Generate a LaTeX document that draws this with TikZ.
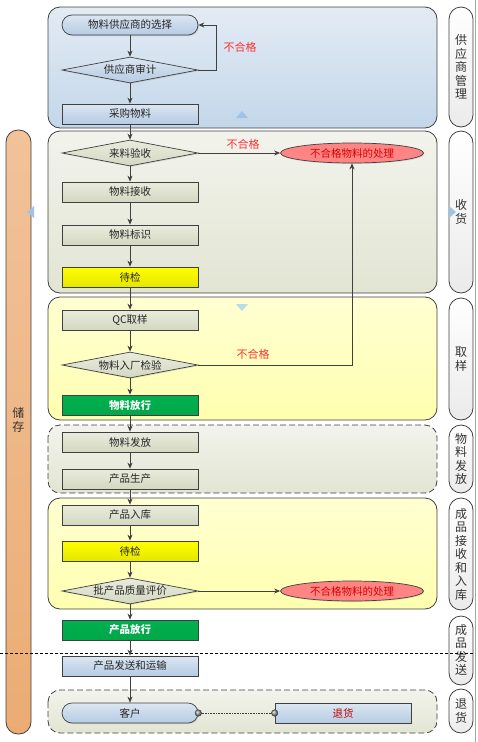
\documentclass[tikz,border=0pt]{standalone}
\usepackage{fontspec}
\newfontfamily\cjk{Noto Sans CJK SC}
\usetikzlibrary{shapes.geometric,arrows.meta,shadows}
\definecolor{ln}{HTML}{404040}
\definecolor{pbT}{HTML}{E3EBF4}
\definecolor{pbB}{HTML}{C3D7EA}
\definecolor{pgT}{HTML}{F2F3EC}
\definecolor{pgB}{HTML}{E2E5D3}
\definecolor{pyT}{HTML}{FFFFD2}
\definecolor{pyB}{HTML}{FFFFB0}
\definecolor{nbT}{HTML}{DCE6F2}
\definecolor{nbB}{HTML}{B5CBE3}
\definecolor{ngT}{HTML}{E9ECDD}
\definecolor{ngB}{HTML}{D3D8C1}
\definecolor{nyT}{HTML}{FFFF00}
\definecolor{nyB}{HTML}{E6E600}
\definecolor{nG}{HTML}{00A848}
\definecolor{nGT}{HTML}{00B050}
\definecolor{nR}{HTML}{FF8585}
\definecolor{orT}{HTML}{F2C29A}
\definecolor{orB}{HTML}{EBAC74}
\definecolor{redtxt}{HTML}{FF3030}
\definecolor{tri}{HTML}{9DC3E6}
\definecolor{tri2}{HTML}{B7DDE5}
\tikzset{
  base/.style={draw=ln, line width=0.7pt, minimum width=136pt, minimum height=20pt, inner sep=0pt,
    font=\cjk\fontsize{10.5}{12}\selectfont, text=black!85,
    drop shadow={opacity=0.25, shadow xshift=1pt, shadow yshift=-1pt}},
  bluebox/.style={base, top color=nbT, bottom color=nbB},
  graybox/.style={base, top color=ngT, bottom color=ngB},
  yellowbox/.style={base, top color=nyT, bottom color=nyB},
  greenbox/.style={base, top color=nGT, bottom color=nG, text=white, font=\cjk\bfseries\fontsize{10.5}{12}\selectfont},
  capsule/.style={rounded corners=10pt},
  dia/.style={base, shape=diamond, aspect=5.2, minimum height=26pt},
  rej/.style={base, shape=ellipse, fill=nR, minimum width=143pt, minimum height=20pt, text=red!85!black},
  panel/.style={draw=ln, line width=0.8pt, rounded corners=12pt},
  dpanel/.style={panel, dash pattern=on 6pt off 3pt},
  side/.style={draw=ln, line width=0.8pt, rounded corners=12pt, top color=white, bottom color=black!8},
  sidetxt/.style={font=\cjk\fontsize{12}{13.5}\selectfont, align=center, text=black!80},
  arr/.style={draw=ln, line width=0.7pt, -{Stealth[length=6pt,width=5pt]}},
  lbl/.style={font=\cjk\fontsize{11}{12}\selectfont, text=redtxt},
}
\begin{document}
\begin{tikzpicture}[x=1pt,y=-1pt]
\useasboundingbox (0,0) rectangle (478,742);
% right border line
\coordinate (rt) at (475,0);
\coordinate (rb) at (475,742);
\draw[black!35, line width=0.8pt] (rt) -- (rb);
% storage bar
\draw[draw=ln, line width=0.8pt, rounded corners=12pt, top color=orT, bottom color=orB] (6,130) rectangle (31,734);
\node[sidetxt] (store) at (18.5,420) {储\\存};
% panels
\draw[panel, top color=pbT, bottom color=pbB] (48,7) rectangle (437,128);
\draw[panel, top color=pgT, bottom color=pgB] (48,131) rectangle (437,293);
\draw[panel, top color=pyT, bottom color=pyB] (48,297) rectangle (437,420);
\draw[dpanel, top color=pgT, bottom color=pgB] (48,425) rectangle (437,493);
\draw[panel, top color=pyT, bottom color=pyB] (48,498) rectangle (437,609);
\draw[dpanel, top color=pgT, bottom color=pgB] (48,690) rectangle (437,733);
% side labels
\draw[side] (449,7) rectangle (473,127);
\node[sidetxt] (s1) at (461,67) {供\\应\\商\\管\\理};
\draw[side] (449,131) rectangle (473,293);
\node[sidetxt] (s2) at (461,212) {收\\货};
\draw[side] (449,298) rectangle (473,420);
\node[sidetxt] (s3) at (461,359) {取\\样};
\draw[side] (449,425) rectangle (473,493);
\node[sidetxt] (s4) at (461,459) {物\\料\\发\\放};
\draw[side] (449,498) rectangle (473,610);
\node[sidetxt] (s5) at (461,554) {成\\品\\接\\收\\和\\入\\库};
\draw[side] (449,616) rectangle (473,685);
\node[sidetxt] (s6) at (461,650) {成\\品\\发\\送};
\draw[side] (449,689) rectangle (473,733);
\node[sidetxt] (s7) at (461,711) {退\\货};
% dashed separator
\coordinate (dl) at (0,653);
\coordinate (dr) at (474,653);
\draw[black, line width=0.7pt, dash pattern=on 3pt off 2pt] (dl) -- (dr);
% small triangles
\fill[tri] (236,118) -- (248,118) -- (242,111) -- cycle;
\fill[tri2] (236,304) -- (248,304) -- (242,311) -- cycle;
\fill[tri] (34,206) -- (34,218) -- (27,212) -- cycle;
\fill[tri] (449,206) -- (449,218) -- (456,212) -- cycle;
% nodes
\node[bluebox, capsule] (sel) at (130,25) {物料供应商的选择};
\node[dia, top color=nbT, bottom color=nbB] (aud) at (130,70) {供应商审计};
\node[bluebox] (buy) at (130,114) {采购物料};
\node[dia, top color=ngT, bottom color=ngB] (inc) at (130,153) {来料验收};
\node[rej] (rej1) at (352,153) {不合格物料的处理};
\node[graybox] (rcv) at (130,192) {物料接收};
\node[graybox] (mark) at (130,235) {物料标识};
\node[yellowbox] (wait1) at (130,277) {待检};
\node[graybox] (qc) at (130,320) {QC取样};
\node[dia, top color=ngT, bottom color=ngB] (iqc) at (130,365) {物料入厂检验};
\node[greenbox] (rel1) at (130,405) {物料放行};
\node[graybox] (iss) at (130,442) {物料发放};
\node[graybox] (prod) at (130,479) {产品生产};
\node[graybox] (stock) at (130,515) {产品入库};
\node[yellowbox] (wait2) at (130,551) {待检};
\node[dia, top color=ngT, bottom color=ngB] (eval) at (130,591) {批产品质量评价};
\node[rej] (rej2) at (352,591) {不合格物料的处理};
\node[greenbox] (rel2) at (130,630) {产品放行};
\node[bluebox] (ship) at (130,666) {产品发送和运输};
\node[bluebox, capsule] (cust) at (130,713) {客户};
\node[bluebox, text=red!75!black] (ret) at (343,713) {退货};
% connectors
\draw[arr] (sel) -- (aud);
\draw[arr] (aud.east) -- ++(18,0) |- (sel.east);
\node[lbl] (l1) at (240,47) {不合格};
\draw[arr] (aud) -- (buy);
\draw[arr] (buy) -- (inc);
\draw[arr] (inc) -- (rej1);
\node[lbl] (l2) at (243,144) {不合格};
\draw[arr] (inc) -- (rcv);
\draw[arr] (rcv) -- (mark);
\draw[arr] (mark) -- (wait1);
\draw[arr] (wait1) -- (qc);
\draw[arr] (qc) -- (iqc);
\draw[arr] (iqc.east) -| (rej1.south);
\node[lbl] (l3) at (253,354) {不合格};
\draw[arr] (iqc) -- (rel1);
\draw[arr] (rel1) -- (iss);
\draw[arr] (iss) -- (prod);
\draw[arr] (prod) -- (stock);
\draw[arr] (stock) -- (wait2);
\draw[arr] (wait2) -- (eval);
\draw[arr] (eval) -- (rej2);
\draw[arr] (eval) -- (rel2);
\draw[arr] (rel2) -- (ship);
\draw[arr] (ship) -- (cust);
\draw[ln, line width=0.6pt, densely dotted] (cust.east) -- (ret.west);
\shade[ball color=black!40, draw=ln] (cust.east) circle (3.3pt);
\shade[ball color=black!40, draw=ln] (ret.west) circle (3.3pt);
\end{tikzpicture}
\end{document}
